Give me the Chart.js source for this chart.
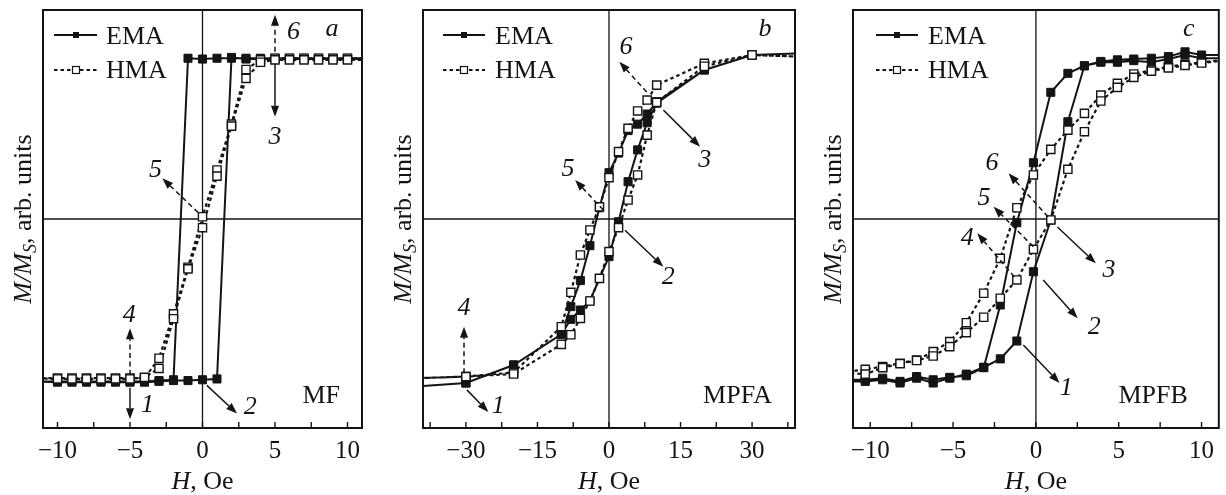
<!DOCTYPE html>
<html><head><meta charset="utf-8">
<script src="https://cdn.jsdelivr.net/npm/chart.js@4.4.0/dist/chart.umd.min.js"></script>
<style>
html,body{margin:0;padding:0;background:#fff;}
#wrap{position:relative;width:1226px;height:495px;overflow:hidden;background:#fff;}
.p{position:absolute;top:0;height:495px;}
</style></head><body>
<div id="wrap">
<div class="p" style="left:0;width:380px"><canvas id="ca"></canvas></div>
<div class="p" style="left:380px;width:430px"><canvas id="cb"></canvas></div>
<div class="p" style="left:810px;width:416px"><canvas id="cc"></canvas></div>
</div>
<script>
// ---------- DATA ----------
// Panel a (MF): loop = descending branch then ascending branch
const aEmaH = [12,10,9,8,7,6,5,4,3,2,1,0,-1,-2,-3,-4,-5,-6,-7,-8,-9,-10,-12,
               -10,-9,-8,-7,-6,-5,-4,-3,-2,-1,0,1,2,3,4,5,6,7,8,9,10,12];
const aEmaM = [1.0,1.0,1.0,1.0,1.0,1.0,1.0,1.0,1.0,1.0,1.0,0.995,1.0,-1.0,-1.005,-1.01,-1.01,-1.01,-1.01,-1.01,-1.01,-1.01,-1.01,
               -1.015,-1.015,-1.015,-1.015,-1.015,-1.015,-1.015,-1.01,-1.005,-1.005,-1.0,-0.995,1.005,0.995,0.995,0.995,0.995,0.995,0.995,0.995,0.995,0.995];
const aHmaH = [12,10,9,8,7,6,5,4,3,2,1,0,-1,-2,-3,-4,-5,-6,-7,-8,-9,-10,-12,
               -10,-9,-8,-7,-6,-5,-4,-3,-2,-1,0,1,2,3,4,5,6,7,8,9,10,12];
const aHmaM = [1.0,1.0,1.0,1.0,1.0,1.0,1.0,0.99,0.93,0.59,0.305,0.014,-0.30,-0.59,-0.866,-0.99,-0.99,-0.99,-0.99,-0.99,-0.99,-0.99,-0.99,
               -0.995,-0.995,-0.995,-0.995,-0.995,-0.995,-0.985,-0.929,-0.62,-0.31,-0.054,0.267,0.578,0.875,0.975,0.99,0.99,0.99,0.99,0.99,0.99,0.99];

// Panel b (MPFA)
const bEmaH = [40,30,20,10,8,6,4,2,0,-2,-4,-6,-8,-10,-20,-30,-40,
               -40,-30,-20,-10,-8,-6,-4,-2,0,2,4,6,8,10,20,30,40];
const bEmaM = [1.03,1.02,0.927,0.73,0.653,0.59,0.55,0.41,0.288,0.07,-0.166,-0.383,-0.545,-0.717,-0.908,-1.02,-1.04,
               -1.04,-1.02,-0.908,-0.717,-0.624,-0.566,-0.51,-0.37,-0.234,-0.017,0.232,0.43,0.599,0.72,0.927,1.02,1.03];
const bHmaH = [40,30,20,10,8,6,4,2,0,-2,-4,-6,-8,-10,-20,-30,-40,
               -40,-30,-20,-10,-8,-6,-4,-2,0,2,4,6,8,10,20,30,40];
const bHmaM = [1.01,1.02,0.968,0.833,0.74,0.672,0.564,0.419,0.257,0.076,-0.068,-0.224,-0.456,-0.67,-0.955,-0.98,-0.99,
               -0.99,-0.98,-0.964,-0.78,-0.72,-0.618,-0.51,-0.369,-0.203,-0.054,0.118,0.274,0.522,0.726,0.95,1.02,1.01];

// Panel c (MPFB)
const cEmaH = [11.3,10.0,9.0,8.0,6.97,5.91,4.92,3.92,2.93,1.93,0.9,-0.15,-1.15,-2.15,-3.15,-4.2,-5.2,-6.2,-7.2,-8.2,-9.25,-10.3,-11.3,
               -11.3,-10.3,-9.25,-8.2,-7.2,-6.2,-5.2,-4.2,-3.15,-2.15,-1.15,-0.15,0.9,1.93,2.93,3.92,4.92,5.91,6.97,8.0,9.0,10.0,11.3];
const cEmaM = [1.02,1.02,1.04,1.01,1.0,0.995,0.99,0.98,0.953,0.906,0.788,0.35,-0.023,-0.535,-0.925,-0.975,-0.985,-1.0,-0.98,-1.01,-0.99,-1.0,-1.0,
               -1.01,-1.01,-1.0,-1.02,-0.99,-1.02,-0.99,-0.965,-0.922,-0.87,-0.759,-0.328,-0.006,0.605,0.953,0.975,0.975,0.985,0.975,0.995,1.02,1.0,1.0];
const cHmaH = [11.3,10.0,9.0,8.0,6.97,5.91,4.92,3.92,2.93,1.93,0.9,-0.15,-1.15,-2.15,-3.15,-4.2,-5.2,-6.2,-7.2,-8.2,-9.25,-10.3,-11.3,
               -11.3,-10.3,-9.25,-8.2,-7.2,-6.2,-5.2,-4.2,-3.15,-2.15,-1.15,-0.15,0.9,1.93,2.93,3.92,4.92,5.91,6.97,8.0,9.0,10.0,11.3];
const cHmaM = [0.99,0.974,0.962,0.947,0.927,0.902,0.844,0.771,0.657,0.553,0.433,0.274,0.07,-0.245,-0.462,-0.645,-0.763,-0.825,-0.877,-0.897,-0.918,-0.935,-0.95,
               -0.96,-0.965,-0.925,-0.9,-0.88,-0.852,-0.794,-0.707,-0.611,-0.493,-0.379,-0.189,-0.006,0.309,0.543,0.734,0.819,0.881,0.92,0.94,0.955,0.97,0.985];

// Tick positions and labels
const aTickVals = [-10,-7.5,-5,-2.5,0,2.5,5,7.5,10];
const aTickLabels = ['\u221210','','\u22125','','0','','5','','10'];
const bTickVals = [-37.5,-30,-22.5,-15,-7.5,0,7.5,15,22.5,30,37.5];
const bTickLabels = ['','\u221230','','\u221215','','0','','15','','30',''];
const cTickVals = [-10,-7.5,-5,-2.5,0,2.5,5,7.5,10];
const cTickLabels = ['\u221210','','\u22125','','0','','5','','10'];

// Annotation arrows (data coordinates): from -> to, label at
const annA = [
  {x1:5, y1:1.04, x2:5, y2:1.27, dash:true, t:'6', tx:6.28, ty:1.165},
  {x1:5, y1:0.965, x2:5, y2:0.636, dash:false, t:'3', tx:5, ty:0.51},
  {x1:-0.3, y1:0.04, x2:-2.77, y2:0.253, dash:true, t:'5', tx:-3.25, ty:0.305},
  {x1:-5, y1:-0.97, x2:-5, y2:-0.68, dash:true, t:'4', tx:-5.05, ty:-0.597},
  {x1:-5, y1:-1.05, x2:-5, y2:-1.245, dash:false, t:'1', tx:-3.8, ty:-1.16},
  {x1:0.3, y1:-1.035, x2:2.38, y2:-1.21, dash:false, t:'2', tx:3.3, ty:-1.17}
];
const annB = [
  {x1:7.9, y1:0.79, x2:2.17, y2:0.978, dash:true, t:'6', tx:3.56, ty:1.07},
  {x1:11.4, y1:0.678, x2:19.1, y2:0.45, dash:false, t:'3', tx:20.1, ty:0.367},
  {x1:-1.2, y1:0.056, x2:-7.1, y2:0.243, dash:true, t:'5', tx:-8.6, ty:0.31},
  {x1:3.35, y1:-0.07, x2:11.4, y2:-0.297, dash:false, t:'2', tx:12.4, ty:-0.36},
  {x1:-30.4, y1:-0.96, x2:-30.4, y2:-0.67, dash:true, t:'4', tx:-30.4, ty:-0.555},
  {x1:-29.8, y1:-1.063, x2:-25.3, y2:-1.2, dash:false, t:'1', tx:-23.2, ty:-1.167}
];
const annC = [
  {x1:0.73, y1:0.014, x2:-1.65, y2:0.284, dash:true, t:'6', tx:-2.65, ty:0.346},
  {x1:-0.16, y1:-0.172, x2:-2.55, y2:0.076, dash:true, t:'5', tx:-3.14, ty:0.129},
  {x1:-1.3, y1:-0.36, x2:-3.54, y2:-0.089, dash:true, t:'4', tx:-4.14, ty:-0.12},
  {x1:1.3, y1:-0.05, x2:3.62, y2:-0.276, dash:false, t:'3', tx:4.41, ty:-0.317},
  {x1:0.44, y1:-0.38, x2:2.52, y2:-0.618, dash:false, t:'2', tx:3.52, ty:-0.67},
  {x1:-0.76, y1:-0.784, x2:1.43, y2:-1.02, dash:false, t:'1', tx:1.83, ty:-1.053}
];

// ---------- RENDERING ----------
const SERIF = '"Liberation Serif", "Times New Roman", serif';
const INK = '#141414';

function pts(h, m) { return h.map((v, i) => ({x: v, y: m[i]})); }

function drawRich(ctx, parts, x, y, align) {
  let w = 0;
  parts.forEach(p => { ctx.font = p.f; p.w = ctx.measureText(p.t).width; w += p.w; });
  let cx = align === 'center' ? x - w / 2 : x;
  ctx.textAlign = 'left';
  ctx.textBaseline = 'alphabetic';
  parts.forEach(p => { ctx.font = p.f; ctx.fillText(p.t, cx, y + (p.dy || 0)); cx += p.w; });
}

function arrow(ctx, x1, y1, x2, y2, dashed) {
  const ang = Math.atan2(y2 - y1, x2 - x1);
  const hl = 11, hw = 4;
  const c = Math.cos(ang), s = Math.sin(ang);
  const bx = x2 - hl * c, by = y2 - hl * s;
  ctx.lineWidth = 1.5;
  ctx.setLineDash(dashed ? [5, 3.5] : []);
  ctx.beginPath(); ctx.moveTo(x1, y1); ctx.lineTo(bx, by); ctx.stroke();
  ctx.setLineDash([]);
  ctx.beginPath();
  ctx.moveTo(x2, y2);
  ctx.lineTo(bx - hw * s, by + hw * c);
  ctx.lineTo(bx + hw * s, by - hw * c);
  ctx.closePath(); ctx.fill();
}

function makePanel(p) {
  const plugin = {
    id: 'panelDecor',
    beforeDatasetsDraw(chart) {
      const {ctx, chartArea: ca, scales: {x, y}} = chart;
      ctx.save();
      ctx.strokeStyle = INK; ctx.lineWidth = 1.3;
      const px0 = x.getPixelForValue(0), py0 = y.getPixelForValue(0);
      ctx.beginPath();
      ctx.moveTo(px0, ca.top); ctx.lineTo(px0, ca.bottom);
      ctx.moveTo(ca.left, py0); ctx.lineTo(ca.right, py0);
      ctx.stroke();
      ctx.restore();
    },
    afterDatasetsDraw(chart) {
      const {ctx, scales: {x, y}} = chart;
      ctx.save();
      ctx.strokeStyle = INK; ctx.fillStyle = INK;
      p.ann.forEach(a => {
        arrow(ctx, x.getPixelForValue(a.x1), y.getPixelForValue(a.y1),
                   x.getPixelForValue(a.x2), y.getPixelForValue(a.y2), a.dash);
        ctx.font = 'italic 26px ' + SERIF;
        ctx.textAlign = 'center'; ctx.textBaseline = 'middle';
        ctx.fillText(a.t, x.getPixelForValue(a.tx), y.getPixelForValue(a.ty));
      });
      ctx.restore();
    },
    afterDraw(chart) {
      const {ctx, chartArea: ca, scales: {x}} = chart;
      ctx.save();
      ctx.strokeStyle = INK; ctx.fillStyle = INK;
      // frame
      ctx.lineWidth = 2;
      ctx.strokeRect(ca.left, ca.top, ca.right - ca.left, ca.bottom - ca.top);
      // inward ticks on the bottom axis
      ctx.lineWidth = 1.4;
      ctx.beginPath();
      x.ticks.forEach(t => {
        const px = x.getPixelForValue(t.value);
        ctx.moveTo(px, ca.bottom); ctx.lineTo(px, ca.bottom - 6);
      });
      ctx.stroke();
      // x title
      drawRich(ctx, [
        {t: 'H', f: 'italic 26px ' + SERIF},
        {t: ', Oe', f: '26px ' + SERIF}
      ], (ca.left + ca.right) / 2, 489, 'center');
      // y title (rotated)
      ctx.save();
      ctx.translate(ca.left - 12, (ca.top + ca.bottom) / 2);
      ctx.rotate(-Math.PI / 2);
      drawRich(ctx, [
        {t: 'M/M', f: 'italic 26px ' + SERIF},
        {t: 'S', f: 'italic 18px ' + SERIF, dy: 5},
        {t: ', arb. units', f: '26px ' + SERIF}
      ], 0, 0, 'center');
      ctx.restore();
      // legend
      const L = p.legend;
      const ly1 = ca.top + 25, ly2 = ca.top + 60;
      ctx.lineWidth = 2;
      ctx.beginPath(); ctx.moveTo(ca.left + L[0], ly1); ctx.lineTo(ca.left + L[1], ly1); ctx.stroke();
      ctx.fillRect(ca.left + L[2] - 3, ly1 - 3, 6, 6);
      ctx.lineWidth = 2.2; ctx.setLineDash([3.5, 3]);
      ctx.beginPath(); ctx.moveTo(ca.left + L[0], ly2); ctx.lineTo(ca.left + L[1], ly2); ctx.stroke();
      ctx.setLineDash([]);
      ctx.fillStyle = '#fff'; ctx.fillRect(ca.left + L[2] - 3.5, ly2 - 3.5, 7, 7);
      ctx.lineWidth = 1.2; ctx.strokeRect(ca.left + L[2] - 3.5, ly2 - 3.5, 7, 7);
      ctx.fillStyle = INK;
      ctx.font = '26px ' + SERIF; ctx.textAlign = 'left'; ctx.textBaseline = 'alphabetic';
      ctx.fillText('EMA', ca.left + L[3], ly1 + 9);
      ctx.fillText('HMA', ca.left + L[3], ly2 + 8);
      // panel letter
      ctx.font = 'italic 26px ' + SERIF; ctx.textAlign = 'center';
      ctx.fillText(p.letter, ca.right - 30, ca.top + 26);
      // sample name
      ctx.font = '26px ' + SERIF; ctx.textAlign = 'right';
      ctx.fillText(p.name, ca.right - p.nameRight, ca.bottom - 25);
      ctx.restore();
    }
  };

  return new Chart(document.getElementById(p.id), {
    type: 'scatter',
    data: {
      datasets: [
        {
          label: 'EMA', data: pts(p.emaH, p.emaM), showLine: true, tension: 0,
          borderColor: INK, borderWidth: 2,
          pointStyle: 'rect', pointRadius: 5.7, pointBackgroundColor: INK,
          pointBorderColor: INK, pointBorderWidth: 1, order: 2
        },
        {
          label: 'HMA', data: pts(p.hmaH, p.hmaM), showLine: true, tension: 0,
          borderColor: INK, borderWidth: 2.2, borderDash: [3.5, 3],
          pointStyle: 'rect', pointRadius: 5.8, pointBackgroundColor: '#fff',
          pointBorderColor: INK, pointBorderWidth: 1.4, order: 1
        }
      ]
    },
    options: {
      responsive: true, maintainAspectRatio: false, animation: false,
      devicePixelRatio: 1, events: [],
      layout: {padding: {left: 0, right: p.padR, top: 10, bottom: 0}},
      plugins: {legend: {display: false}, tooltip: {enabled: false}},
      scales: {
        x: {
          type: 'linear', min: p.xMin, max: p.xMax,
          afterBuildTicks: s => { s.ticks = p.tickVals.map(v => ({value: v})); },
          afterFit: s => { s.height = 67; },
          grid: {display: false, drawTicks: false},
          border: {display: false},
          ticks: {
            autoSkip: false, maxRotation: 0, minRotation: 0, padding: 8,
            color: INK, font: {family: SERIF, size: 25},
            callback: (v, i) => p.tickLabels[i]
          }
        },
        y: {
          type: 'linear', min: -1.3, max: 1.3,
          afterFit: s => { s.width = 43; },
          grid: {display: false, drawTicks: false},
          border: {display: false},
          ticks: {display: false}
        }
      }
    },
    plugins: [plugin]
  });
}

makePanel({id: 'ca', xMin: -11, xMax: 11, padR: 18, tickVals: aTickVals, tickLabels: aTickLabels,
  emaH: aEmaH, emaM: aEmaM, hmaH: aHmaH, hmaM: aHmaM, ann: annA,
  letter: 'a', name: 'MF', nameRight: 22, legend: [11, 54, 33, 63]});
makePanel({id: 'cb', xMin: -39, xMax: 39, padR: 15, tickVals: bTickVals, tickLabels: bTickLabels,
  emaH: bEmaH, emaM: bEmaM, hmaH: bHmaH, hmaM: bHmaM, ann: annB,
  letter: 'b', name: 'MPFA', nameRight: 23, legend: [20, 62, 41, 72]});
makePanel({id: 'cc', xMin: -11.04, xMax: 11.04, padR: 4, tickVals: cTickVals, tickLabels: cTickLabels,
  emaH: cEmaH, emaM: cEmaM, hmaH: cHmaH, hmaM: cHmaM, ann: annC,
  letter: 'c', name: 'MPFB', nameRight: 31, legend: [23, 65, 44, 75]});
</script>
</body></html>
